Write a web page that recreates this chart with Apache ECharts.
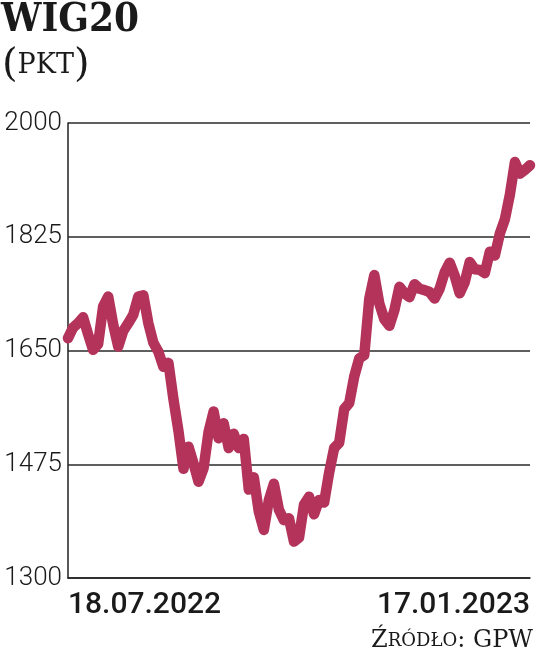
<!DOCTYPE html>
<html>
<head>
<meta charset="utf-8">
<script src="https://cdn.jsdelivr.net/npm/echarts@6/dist/echarts.min.js"></script>
<style>
html,body{margin:0;padding:0;background:#fff;}
#c{width:536px;height:667px;}
</style>
</head>
<body>
<div id="c"></div>
<script>
const titleText = 'WIG20';
const unitText = 'PKT';
const sourceText = 'GPW';
const dateLabels = ['18.07.2022', '17.01.2023'];
const yTicks = [1300, 1475, 1650, 1825, 2000];
const wig20 = [
  1669, 1685, 1692, 1701, 1675, 1651, 1660, 1718, 1733, 1690,
  1656, 1680, 1692, 1705, 1733, 1735, 1692, 1662, 1648, 1625,
  1631, 1575, 1526, 1468, 1502, 1476, 1448, 1469, 1525, 1556,
  1515, 1538, 1500, 1522, 1500, 1514, 1436, 1455, 1402, 1374,
  1420, 1445, 1405, 1389, 1392, 1356, 1362, 1413, 1425, 1398,
  1420, 1416, 1462, 1500, 1508, 1560, 1569, 1610, 1638, 1643,
  1730, 1766, 1722, 1698, 1688, 1712, 1748, 1738, 1732, 1752,
  1745, 1743, 1740, 1730, 1745, 1770, 1785, 1765, 1738, 1755,
  1786, 1775, 1774, 1769, 1802, 1796, 1830, 1852, 1890, 1940,
  1922, 1928, 1935
];

const N = wig20.length;
const cats = wig20.map((_, i) => i);
const chart = echarts.init(document.getElementById('c'), null, {renderer: 'canvas'});

chart.setOption({
  animation: false,
  backgroundColor: '#ffffff',
  grid: {left: 68, right: 6, top: 123, bottom: 89, containLabel: false},
  xAxis: {
    type: 'category',
    data: cats,
    boundaryGap: false,
    axisLine: {show: true, lineStyle: {color: '#222', width: 1.5}},
    axisTick: {show: false},
    splitLine: {show: false},
    axisLabel: {
      show: true,
      interval: (i) => i === 0 || i === N - 1,
      formatter: (v, i) => (i === 0 ? dateLabels[0] : (i === N - 1 ? dateLabels[1] : '')),
      alignMinLabel: 'left',
      alignMaxLabel: 'right',
      color: '#1a1a1a',
      fontFamily: 'Roboto',
      fontWeight: 500,
      fontSize: 30,
      margin: 12
    }
  },
  yAxis: {
    type: 'value',
    min: yTicks[0],
    max: yTicks[yTicks.length - 1],
    interval: yTicks[1] - yTicks[0],
    axisLine: {show: true, lineStyle: {color: '#222', width: 1.5}},
    axisTick: {show: false},
    splitLine: {show: true, lineStyle: {color: '#2a2a2a', width: 1.5}},
    axisLabel: {
      formatter: (v) => String(v),
      color: '#1a1a1a',
      fontFamily: 'Roboto',
      fontWeight: 300,
      fontSize: 26,
      margin: 6
    }
  },
  series: [{
    type: 'line',
    data: wig20,
    symbol: 'none',
    smooth: false,
    lineStyle: {color: '#b3335a', width: 10.5, cap: 'round', join: 'round'},
    z: 3
  }],
  graphic: [
    {
      type: 'text', left: 1, top: 1,
      style: {text: titleText, fontFamily: '"DejaVu Serif Condensed", "DejaVu Serif", serif', fontWeight: 'bold', fontSize: 40, fill: '#1a1a1a'}
    },
    {
      type: 'text', left: 2, top: 46,
      style: {
        text: '{p|(}{t|' + unitText + '}{p|)}',
        rich: {
          p: {fontFamily: '"DejaVu Serif", serif', fontSize: 40, fill: '#1a1a1a', fontWeight: 300},
          t: {fontFamily: '"DejaVu Serif", serif', fontSize: 27, fill: '#1a1a1a'}
        }
      }
    },
    {
      type: 'text', right: 3, top: 629,
      style: {
        text: '{b|Ź}{s|RÓDŁO}{b|: ' + sourceText + '}',
        rich: {
          b: {fontFamily: '"DejaVu Serif", serif', fontSize: 24, fill: '#1a1a1a'},
          s: {fontFamily: '"DejaVu Serif", serif', fontSize: 18, fill: '#1a1a1a'}
        }
      }
    }
  ]
});
</script>
</body>
</html>
